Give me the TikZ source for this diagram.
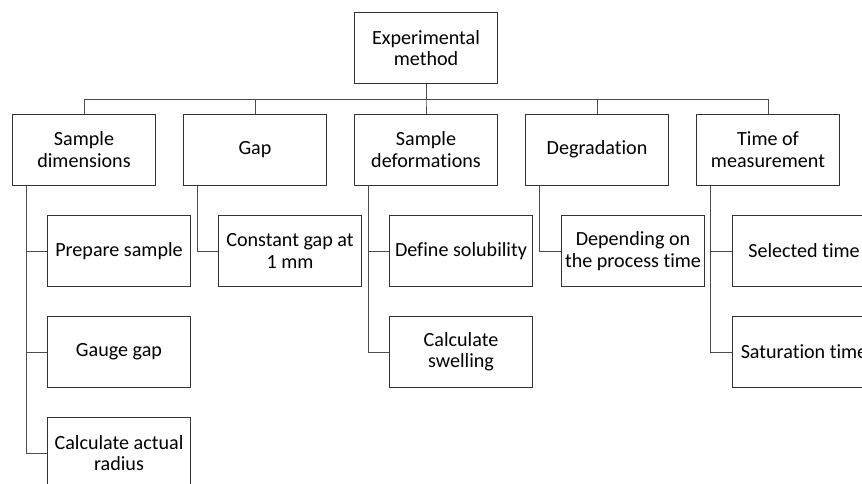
\documentclass[tikz,border=0pt]{standalone}
\usepackage{fontspec}
\setmainfont{Carlito}[Ligatures=NoCommon]
\usepackage{tikz}
\usetikzlibrary{positioning,calc}
\tikzset{
  box/.style  ={draw=black!80,line width=0.7pt,minimum width=3.55cm,minimum height=1.775cm,
                inner sep=0pt,align=center,font=\fontsize{14.3}{15.2}\selectfont},
  link/.style ={draw=black!70,line width=0.7pt},
}

\begin{document}
\begin{tikzpicture}[x=0.025cm,y=-0.025cm]
  \useasboundingbox (0,0) rectangle (862,483);
  \clip (0,0) rectangle (862,483);
  \node[box] (method) at (426,47.8){Experimental\\method};
  \node[box] (dims)   at (84,149.5){Sample\\dimensions};
  \node[box] (gap)    at (255,149.5){Gap};
  \node[box] (deform) at (426,149.5){Sample\\deformations};
  \node[box] (degr)   at (597,149.5){Degradation};
  \node[box] (time)   at (768,149.5){Time of\\measurement};
  \node[box] (prep)   at (119,251){Prepare sample};
  \node[box] (gauge)  at (119,352){Gauge gap};
  \node[box] (radius) at (119,453){Calculate actual\\radius};
  \node[box] (const)  at (290,251){Constant gap at\\1 mm};
  \node[box] (solub)  at (461,251){Define solubility};
  \node[box] (swell)  at (461,352){Calculate\\swelling};
  \node[box] (depend) at (633,251){Depending on\\the process time};
  \node[box] (sel)    at (804,251){Selected time};
  \node[box] (sat)    at (804,352){Saturation time};
  \foreach \n in {dims,gap,deform,degr,time}{\draw[link] (method.south) -- ++(0,15.7) -| (\n.north);}
  \foreach \c in {prep,gauge,radius}{\draw[link] ([xshift=0.36cm]dims.south west) |- (\c.west);}
  \draw[link] ([xshift=0.36cm]gap.south west) |- (const.west);
  \foreach \c in {solub,swell}{\draw[link] ([xshift=0.36cm]deform.south west) |- (\c.west);}
  \draw[link] ([xshift=0.36cm]degr.south west) |- (depend.west);
  \foreach \c in {sel,sat}{\draw[link] ([xshift=0.36cm]time.south west) |- (\c.west);}
\end{tikzpicture}
\end{document}
